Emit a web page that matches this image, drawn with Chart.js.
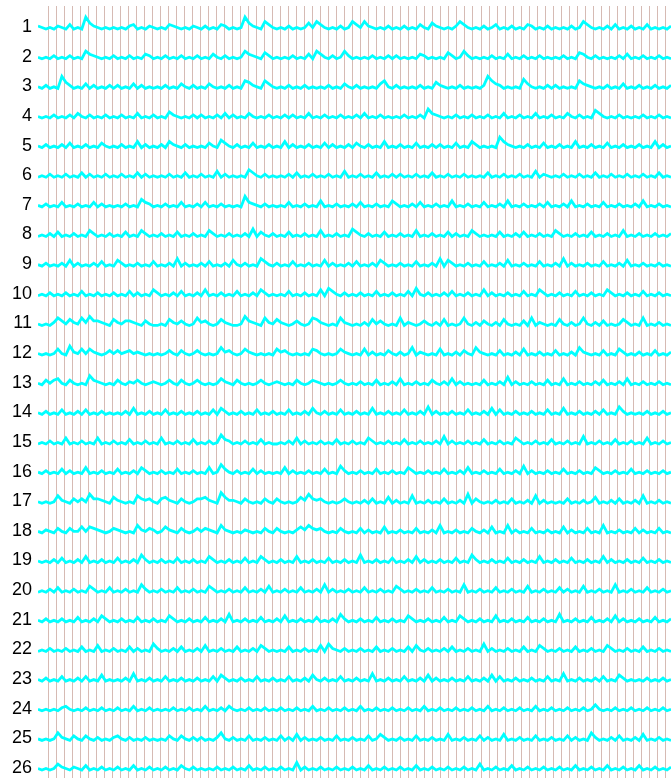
<!DOCTYPE html>
<html>
<head>
<meta charset="utf-8">
<script src="https://cdn.jsdelivr.net/npm/chart.js@4.4.1/dist/chart.umd.min.js"></script>
<style>
html,body{margin:0;padding:0;background:#fff;}
canvas{display:block;}
</style>
</head>
<body>
<canvas id="c" width="671" height="778"></canvas>
<script>
// Row labels (y tick labels)
const rowLabels = ["1","2","3","4","5","6","7","8","9","10","11","12","13","14","15","16","17","18","19","20","21","22","23","24","25","26"];
// Vertical grid positions (x ticks)
const gridTicks = [0,1,2,3,4,5,6,7,8,9,10,11,12,13,14,15,16,17,18,19,20,21,22,23,24,25,26,27,28,29,30,31,32,33,34,35,36,37,38,39,40,41,42,43,44,45,46,47,48,49,50,51,52,53,54,55,56,57,58,59,60,61,62,63,64,65,66,67,68,69,70,71,72,73,74,75,76,77];
// Trace amplitudes, one digit per sample (0-9)
const row01 = "3212132141 2195321212 1213412132 1214321213 2131214312 1295321642 1213121252 6421213126 4263212131 2131214215 3212136421 2131241213 1214312131 2121312642 1213141213 1214121213";
const row02 = "2121312131 2164321213 1213121431 2131213121 3121421312 1264321531 2121312141 6421312631 2121312131 3121214312 1215312631 2121312141 2131213121 2131215421 3121213141 2131213121";
const row03 = "2131219531 2141312131 3121413121 2131214213 1214212131 2165321642 1213121312 1213121421 3121214621 3121213121 5321213121 2139643121 2174212131 3121216432 1213121412 1312131213";
const row04 = "2121312131 4213121312 1312141213 1215321213 1312131413 1214212131 2131312141 2131213121 3141213121 2131213174 3212131213 1213121412 1312141213 1214213121 6421213121 2131213121";
const row05 = "2131213141 2131214212 1312151312 1315321312 1214216421 3121412131 2151312131 2141312131 4213121512 1312141213 1312141215 3121218532 1213121412 1312151213 1214121312 1312151312";
const row06 = "1213121312 1413121312 1312141312 1213121412 1312151312 1216421312 1213141213 1213121512 1312141213 1312131214 1213121312 1214121312 1312151321 2131213121 4121312131 2131214121";
const row07 = "2131214121 3121413121 2131216431 2131214121 3141213121 2184321312 1214121312 1512131213 1412131215 3121314121 3121512131 2141213151 2131213141 2131512131 2141213121 3151213121";
const row08 = "1213141213 1215312131 2141215312 1312141213 1215312131 2131614213 1214121312 1512131216 4213121412 1312151213 1214131215 3121214121 3141213121 5312131214 1213121512 1312131213";
const row09 = "2131213151 3121314121 5312131214 1213161312 1314121315 2131216421 3121412131 2151312131 4121315312 1312141213 1615312131 2141213151 2131214121 3161312131 2141213151 2131213121";
const row10 = "1213121312 1412131213 1214131215 3121314121 3151213121 4121315312 1214121312 1516421312 1312141213 1214162131 2131412131 2151312131 2141215312 1312141213 1215312131 2141213121";
const row11 = "2121364253 2637443215 3244321421 1215324212 6342125321 1274321632 5321242126 5321216321 2131524212 1613212421 3151212621 3142131521 2141613212 1521312621 3141212531 2161213121";
const row12 = "2121252173 2525321242 4234232121 2124214212 4212126342 1253212121 5342121215 4212125321 2151312142 1312613212 1512131421 6321214121 3151213121 4121316321 2141215312 1312141213";
const row13 = "2142452142 1217432121 4213242123 2124214212 4212125321 4212124212 3212142124 3212124212 1312141213 1512131214 2131513121 2141213161 3121312141 2151213121 3141213151 2131213121";
const row14 = "2131214121 3141213121 2131512131 2141213121 3121415312 1312141213 1214121315 2131214121 3121512131 2141213161 3121312141 2131514121 3121312141 2151213121 3141216312 1213121312";
const row15 = "1213121512 1312151213 1214121312 1512131214 1213127431 2131214121 1213151312 1312141213 1215312131 2141213121 3161312131 2141213121 5312131214 1213121612 1312141213 1215121312";
const row16 = "2131214131 2151213121 4121315312 1312141213 1215127421 3121413121 2151312131 2141216312 1312141213 1215312131 2141213151 2131214121 3161312131 2141213121 5312131214 1213121312";
const row17 = "2121263214 2427443215 3212164342 1453214212 4453218533 2142121421 4212125374 3421212421 2131412151 3121612131 2141213171 4212131214 1213161312 1214121312 5121314121 3161213121";
const row18 = "2132142142 2525432124 3212163243 1253214212 4243216321 2132121421 4212135364 3421214212 1413121512 1312141213 1612131214 2131512161 3121412131 2151312141 2161213121 4131214121";
const row19 = "2121314121 3151213121 4121316312 1312141213 1215312131 2141215312 1312151213 1214121312 1612131214 1213151312 1312141216 3121312141 2131215121 3121412131 2151312131 2141213121";
const row20 = "1213141213 1215312141 2131216312 1312141213 1215312131 2141213151 2131214121 3161312131 2141213121 5312131214 1213121612 1312141213 1215121312 1413121512 1312161213 1214121312";
const row21 = "2131213121 4121315312 1312141213 1215312131 2141213161 2131214121 3151213121 4121316312 1312141213 1215312131 2141215312 1312151213 1214121312 1612131214 1213151312 1312141213";
const row22 = "1213121312 1412151213 1214131216 3121314121 3151213121 4121315312 1214121312 1516321312 1312141213 1214152131 2131412131 2161312131 2141215312 1312141213 1215312131 2141213121";
const row23 = "2131214121 3141215121 2131612131 2141213121 3121415312 1312141213 1214121315 2131214121 3121612131 2141213151 3121312141 2131514121 3121312141 2161213121 3141215312 1213121312";
const row24 = "2121213421 2131213121 3121412131 2121312131 2141213142 1213121312 1312131214 1213121312 1412131213 1213121412 1312131213 1214121312 1312141213 1213121312 5212131213 1213121312";
const row25 = "2121263214 2142131213 4213121312 1214214213 1312136213 1214121312 1413151312 1312141213 1214125312 1312141213 1215121312 1413121512 1312141213 1214131216 3121314121 3151213121";
const row26 = "2121253213 2141213121 3121412131 2131214213 1212131213 1214121312 1312161312 1312131213 1214121312 1312141213 1213121312 1512131214 1213121312 1312141213 1214121312 1412131213";
const rows = [row01,row02,row03,row04,row05,row06,row07,row08,row09,row10,row11,row12,row13,row14,row15,row16,row17,row18,row19,row20,row21,row22,row23,row24,row25,row26];

const X_MIN = -1.286, X_MAX = 77.71;
const Y_MIN = 0.2915, Y_MAX = 26.338;
const UNIT = 1.5 / 29.64;
const OFFSET = 0.12;

const datasets = rows.map((s, r) => {
  const digits = s.replace(/\s/g, '');
  const n = digits.length;
  const data = [];
  for (let i = 0; i < n; i++) {
    data.push({
      x: X_MIN + i * (X_MAX - X_MIN) / (n - 1),
      y: (r + 1) + OFFSET - Number(digits[i]) * UNIT
    });
  }
  return {
    label: rowLabels[r],
    data,
    borderColor: '#00FFFF',
    backgroundColor: '#00FFFF',
    borderWidth: 2.8,
    pointRadius: 0,
    tension: 0,
    fill: false
  };
});

new Chart(document.getElementById('c'), {
  type: 'line',
  data: { datasets },
  options: {
    responsive: false,
    devicePixelRatio: 1,
    animation: false,
    layout: { padding: { top: 6, left: 0, right: 0, bottom: 0 } },
    plugins: { legend: { display: false }, tooltip: { enabled: false } },
    scales: {
      x: {
        type: 'linear',
        min: X_MIN,
        max: X_MAX,
        afterBuildTicks: (scale) => { scale.ticks = gridTicks.map(v => ({ value: v })); },
        afterFit: (scale) => { scale.height = 0; scale.paddingLeft = 0; scale.paddingRight = 0; },
        ticks: { display: false, padding: 0 },
        grid: { color: '#d6bab3', lineWidth: 1, drawTicks: false },
        border: { display: false }
      },
      y: {
        type: 'linear',
        reverse: true,
        min: Y_MIN,
        max: Y_MAX,
        afterBuildTicks: (scale) => { scale.ticks = rowLabels.map((l, i) => ({ value: i + 1 })); },
        afterFit: (scale) => { scale.width = 38; scale.paddingTop = 0; scale.paddingBottom = 0; },
        ticks: {
          autoSkip: false,
          padding: 6,
          color: '#000',
          font: { family: '"Liberation Sans", Arial, sans-serif', size: 18 },
          callback: (v) => rowLabels[Math.round(v) - 1]
        },
        grid: { display: false, drawTicks: false },
        border: { display: false }
      }
    }
  }
});
</script>
</body>
</html>
